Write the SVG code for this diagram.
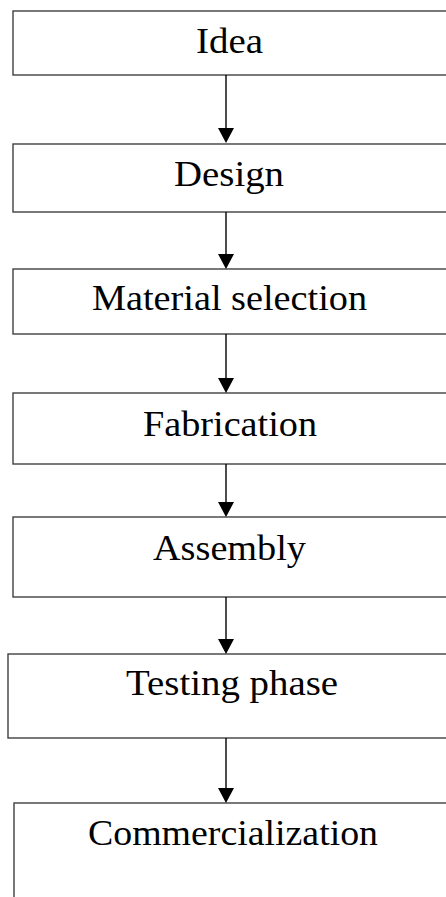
<svg xmlns="http://www.w3.org/2000/svg" width="446" height="897" viewBox="0 0 446 897">
<style>
.box{fill:#fff;stroke:#404040;stroke-width:1.4}
.lbl{font-family:'Liberation Serif',serif;font-size:35px;fill:#000}
.conn{stroke:#000;stroke-width:1.4;fill:none}
.head{fill:#000}
</style>
<rect width="446" height="897" fill="#fff"/>
<g id="n1"><rect class="box" x="13" y="11" width="450" height="64"/><text class="lbl" font-family="Liberation Serif" x="196" y="53" textLength="67" lengthAdjust="spacingAndGlyphs">Idea</text></g>
<g id="n2"><rect class="box" x="13" y="144" width="450" height="68"/><text class="lbl" font-family="Liberation Serif" x="174" y="186" textLength="110" lengthAdjust="spacingAndGlyphs">Design</text></g>
<g id="n3"><rect class="box" x="13" y="269" width="450" height="65"/><text class="lbl" font-family="Liberation Serif" x="92" y="310" textLength="275" lengthAdjust="spacingAndGlyphs">Material selection</text></g>
<g id="n4"><rect class="box" x="13" y="393" width="450" height="71"/><text class="lbl" font-family="Liberation Serif" x="143" y="436" textLength="174" lengthAdjust="spacingAndGlyphs">Fabrication</text></g>
<g id="n5"><rect class="box" x="13" y="517" width="450" height="80"/><text class="lbl" font-family="Liberation Serif" x="153" y="560" textLength="153" lengthAdjust="spacingAndGlyphs">Assembly</text></g>
<g id="n6"><rect class="box" x="8" y="654" width="450" height="84"/><text class="lbl" font-family="Liberation Serif" x="126" y="695" textLength="212" lengthAdjust="spacingAndGlyphs">Testing phase</text></g>
<g id="n7"><rect class="box" x="14" y="803" width="450" height="110"/><text class="lbl" font-family="Liberation Serif" x="88" y="845" textLength="290" lengthAdjust="spacingAndGlyphs">Commercialization</text></g>
<g id="connectors">
<line class="conn" x1="226" y1="75" x2="226" y2="130"/><polygon class="head" points="218,128 234,128 226,143"/>
<line class="conn" x1="226" y1="212" x2="226" y2="256"/><polygon class="head" points="218,254 234,254 226,269"/>
<line class="conn" x1="226" y1="334" x2="226" y2="380"/><polygon class="head" points="218,378 234,378 226,393"/>
<line class="conn" x1="226" y1="464" x2="226" y2="504"/><polygon class="head" points="218,502 234,502 226,517"/>
<line class="conn" x1="226" y1="597" x2="226" y2="641"/><polygon class="head" points="218,639 234,639 226,654"/>
<line class="conn" x1="226" y1="738" x2="226" y2="790"/><polygon class="head" points="218,788 234,788 226,803"/>
</g>
</svg>
